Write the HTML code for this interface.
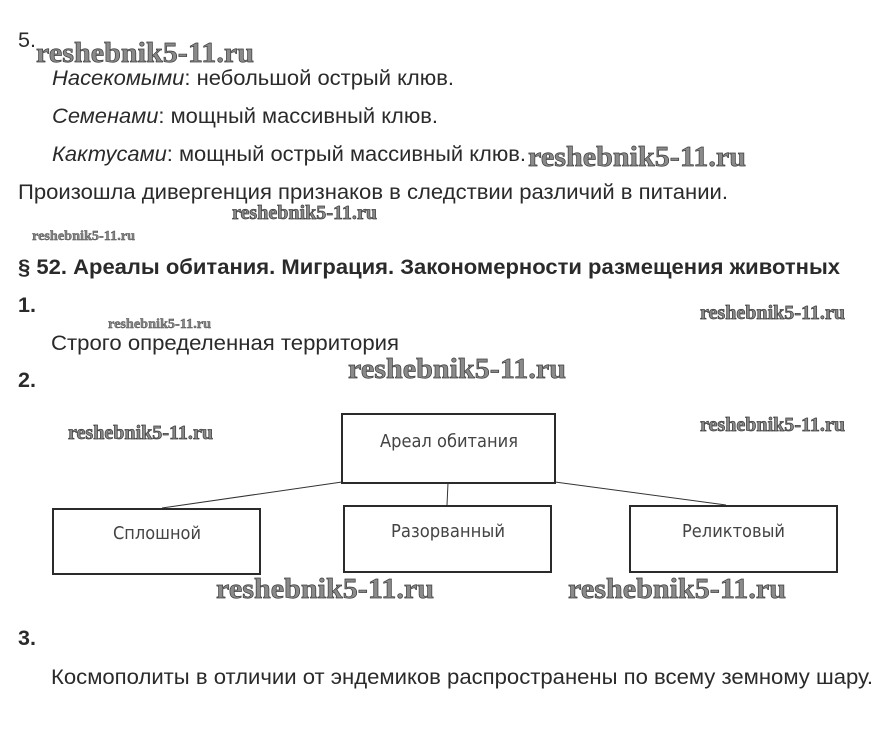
<!DOCTYPE html>
<html><head><meta charset="utf-8"><style>
html,body{margin:0;padding:0;background:#fff}
svg{display:block}
.t{font-family:"Liberation Sans",Arial,sans-serif;font-size:21.5px;fill:#2a2a2a}
.b{font-weight:bold}
.d{font-family:"DejaVu Sans","Liberation Sans",sans-serif;font-size:18px;fill:#444}
.w{font-family:"Liberation Serif",serif;font-weight:bold;fill:#8a8a8a;stroke:#3c3c3c;stroke-width:.7px}
.l{font-size:29px}.m{font-size:19.5px}.s{font-size:14px;stroke-width:.4px}
rect{fill:#fff;stroke:#2b2b2b;stroke-width:2}
line{stroke:#333;stroke-width:1}
</style></head><body>
<svg width="886" height="742" viewBox="0 0 886 742" xmlns="http://www.w3.org/2000/svg">
<text class="t" x="18" y="47">5.</text>
<text class="t" x="52" y="85" textLength="402" lengthAdjust="spacingAndGlyphs"><tspan font-style="italic">Насекомыми</tspan>: небольшой острый клюв.</text>
<text class="t" x="52" y="123" textLength="386" lengthAdjust="spacingAndGlyphs"><tspan font-style="italic">Семенами</tspan>: мощный массивный клюв.</text>
<text class="t" x="52" y="161" textLength="474" lengthAdjust="spacingAndGlyphs"><tspan font-style="italic">Кактусами</tspan>: мощный острый массивный клюв.</text>
<text class="t" x="18" y="199" textLength="710" lengthAdjust="spacingAndGlyphs">Произошла дивергенция признаков в следствии различий в питании.</text>
<text class="t b" x="18" y="274" textLength="822" lengthAdjust="spacingAndGlyphs" style="font-size:21px">§ 52. Ареалы обитания. Миграция. Закономерности размещения животных</text>
<text class="t b" x="18" y="312">1.</text>
<text class="t" x="51" y="350" textLength="348" lengthAdjust="spacingAndGlyphs">Строго определенная территория</text>
<text class="t b" x="18" y="387">2.</text>
<text class="t b" x="18" y="645">3.</text>
<text class="t" x="51" y="684" textLength="822" lengthAdjust="spacingAndGlyphs">Космополиты в отличии от эндемиков распространены по всему земному шару.</text>

<line x1="342" y1="482" x2="162" y2="508"/>
<line x1="448" y1="483" x2="447" y2="505"/>
<line x1="555" y1="482" x2="726" y2="505"/>
<rect x="342" y="414" width="213" height="69"/>
<rect x="53" y="509" width="207" height="65"/>
<rect x="344" y="506" width="207" height="66"/>
<rect x="630" y="506" width="207" height="66"/>
<text class="d" x="380" y="447" textLength="138" lengthAdjust="spacingAndGlyphs">Ареал обитания</text>
<text class="d" x="113" y="539" textLength="88" lengthAdjust="spacingAndGlyphs">Сплошной</text>
<text class="d" x="391" y="537" textLength="114" lengthAdjust="spacingAndGlyphs">Разорванный</text>
<text class="d" x="682" y="537" textLength="103" lengthAdjust="spacingAndGlyphs">Реликтовый</text>

<text class="w l" x="36" y="62" textLength="218" lengthAdjust="spacingAndGlyphs">reshebnik5-11.ru</text>
<text class="w l" x="528" y="166" textLength="218" lengthAdjust="spacingAndGlyphs">reshebnik5-11.ru</text>
<text class="w l" x="348" y="378" textLength="218" lengthAdjust="spacingAndGlyphs">reshebnik5-11.ru</text>
<text class="w l" x="216" y="598" textLength="218" lengthAdjust="spacingAndGlyphs">reshebnik5-11.ru</text>
<text class="w l" x="568" y="598" textLength="218" lengthAdjust="spacingAndGlyphs">reshebnik5-11.ru</text>
<text class="w m" x="232" y="219" textLength="145" lengthAdjust="spacingAndGlyphs">reshebnik5-11.ru</text>
<text class="w m" x="700" y="319" textLength="145" lengthAdjust="spacingAndGlyphs">reshebnik5-11.ru</text>
<text class="w m" x="68" y="439" textLength="145" lengthAdjust="spacingAndGlyphs">reshebnik5-11.ru</text>
<text class="w m" x="700" y="431" textLength="145" lengthAdjust="spacingAndGlyphs">reshebnik5-11.ru</text>
<text class="w s" x="32" y="240" textLength="103" lengthAdjust="spacingAndGlyphs">reshebnik5-11.ru</text>
<text class="w s" x="108" y="328" textLength="103" lengthAdjust="spacingAndGlyphs">reshebnik5-11.ru</text>
</svg>
</body></html>
